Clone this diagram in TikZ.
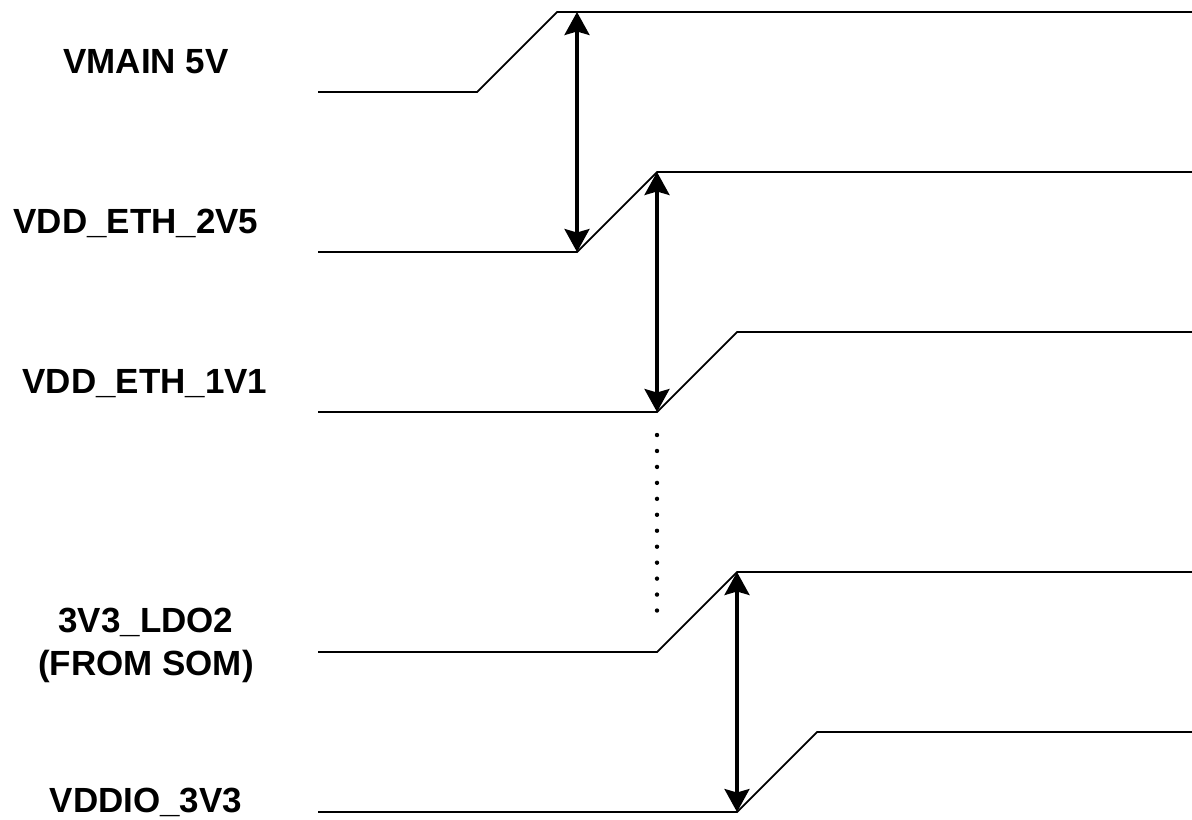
\documentclass[tikz,border=0pt]{standalone}
\usepackage{fontspec}
\setmainfont{Liberation Sans}
\usetikzlibrary{positioning,arrows.meta}

\begin{document}
\begin{tikzpicture}[x=0.02cm,y=-0.02cm,
semithick,
signal/.style={line width=1pt},
delay/.style={{Stealth[length=0.46cm,width=0.5cm,inset=0.07cm]}-{Stealth[length=0.46cm,width=0.5cm,inset=0.07cm]},line width=1.8pt},
rail/.style={font=\bfseries\fontsize{19.9}{24.4}\selectfont,align=center,anchor=base}
]
\useasboundingbox (0,0) rectangle (1192,819);

% rail names
\node[rail] (Lmain) at (146,73) {VMAIN 5V};
\node[rail] (Leth2) at (136,233) {VDD\_ETH\_2V5};
\node[rail] (Leth1) at (145,393) {VDD\_ETH\_1V1};
\node[rail] (Lldo) at (146,675) {3V3\_LDO2\\(FROM SOM)};
\node[rail] (Lio) at (146,812) {VDDIO\_3V3};

% ramp corners
\coordinate (mainL) at (318,92);  \coordinate (mainA) at (477,92);
\coordinate (mainB) at (557,12);  \coordinate (mainR) at (1192,12);
\coordinate (eth2L) at (318,252); \coordinate (eth2A) at (577,252);
\coordinate (eth2B) at (657,172); \coordinate (eth2R) at (1192,172);
\coordinate (eth1L) at (318,412); \coordinate (eth1A) at (657,412);
\coordinate (eth1B) at (737,332); \coordinate (eth1R) at (1192,332);
\coordinate (ldoL) at (318,652);  \coordinate (ldoA) at (657,652);
\coordinate (ldoB) at (737,572);  \coordinate (ldoR) at (1192,572);
\coordinate (ioL) at (318,812);   \coordinate (ioA) at (737,812);
\coordinate (ioB) at (817,732);   \coordinate (ioR) at (1192,732);

\draw[signal] (mainL) -- (mainA) -- (mainB) -- (mainR);
\draw[signal] (eth2L) -- (eth2A) -- (eth2B) -- (eth2R);
\draw[signal] (eth1L) -- (eth1A) -- (eth1B) -- (eth1R);
\draw[signal] (ldoL) -- (ldoA) -- (ldoB) -- (ldoR);
\draw[signal] (ioL) -- (ioA) -- (ioB) -- (ioR);

% delays between rails
\draw[delay] (eth2A |- mainB) -- (eth2A);
\draw[delay] (eth2B) -- (eth1A);
\draw[delay] (ldoB) -- (ioA);

\coordinate (gapT) at (657,435);
\coordinate (gapB) at (657,612);
\draw[line width=2.5pt,line cap=round,dash pattern=on 0pt off 0.3192cm] (gapT) -- (gapB);
\end{tikzpicture}
\end{document}
